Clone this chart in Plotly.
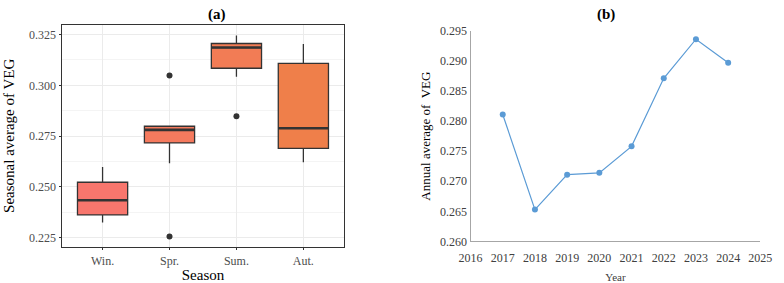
import plotly.graph_objects as go

# ---- Data: panel (a) seasonal box statistics ----
seasons = ["Win.", "Spr.", "Sum.", "Aut."]
q1 = [0.2361, 0.2716, 0.3084, 0.2689]
median = [0.2433, 0.2780, 0.3186, 0.2788]
q3 = [0.2522, 0.2798, 0.3206, 0.3108]
lower = [0.2323, 0.2616, 0.3042, 0.2620]
upper = [0.2597, 0.2798, 0.3245, 0.3203]
outlier_season = ["Spr.", "Spr.", "Sum."]
outlier_value = [0.3048, 0.2255, 0.2847]
box_colors = ["#F8766D", "#F57A5E", "#F27C55", "#EF7F4A"]

# ---- Data: panel (b) annual averages ----
years = [2017, 2018, 2019, 2020, 2021, 2022, 2023, 2024]
annual = [0.2811, 0.2653, 0.2711, 0.2714, 0.2758, 0.2871, 0.2936, 0.2897]

FONT = "Liberation Serif, Times New Roman, serif"
BOXW = 0.75

fig = go.Figure()

for i, s in enumerate(seasons):
    fig.add_trace(go.Box(
        x=[s], q1=[q1[i]], median=[median[i]], q3=[q3[i]],
        lowerfence=[lower[i]], upperfence=[upper[i]],
        fillcolor=box_colors[i], line=dict(color="#333333", width=1.3),
        whiskerwidth=0, width=BOXW, boxpoints=False,
        xaxis="x", yaxis="y", showlegend=False, hoverinfo="skip",
    ))
    # thicker median line (ggplot style)
    fig.add_trace(go.Scatter(
        x=[i - BOXW / 2, i + BOXW / 2], y=[median[i], median[i]],
        mode="lines", line=dict(color="#333333", width=2.6),
        xaxis="x2", yaxis="y", showlegend=False, hoverinfo="skip",
    ))

fig.add_trace(go.Scatter(
    x=outlier_season, y=outlier_value, mode="markers",
    marker=dict(color="#333333", size=6),
    xaxis="x", yaxis="y", showlegend=False,
))

fig.add_trace(go.Scatter(
    x=years, y=annual, mode="lines+markers",
    line=dict(color="#5B9BD5", width=1.2),
    marker=dict(color="#5B9BD5", size=6),
    xaxis="x3", yaxis="y3", showlegend=False,
))

dom_a_x = [52 / 784, 342 / 784]
dom_a_y = [(283 - 252) / 283, (283 - 19) / 283]
dom_b_x = [473 / 784, 772 / 784]
dom_b_y = [(283 - 246.7) / 283, (283 - 25) / 283]

fig.update_layout(
    width=784, height=283,
    margin=dict(l=0, r=0, t=0, b=0),
    paper_bgcolor="white", plot_bgcolor="white",
    font=dict(family=FONT, color="#4D4D4D"),
    xaxis=dict(
        domain=dom_a_x, type="category", categoryorder="array", categoryarray=seasons,
        range=[-0.6, 3.6], showgrid=True, gridcolor="#EBEBEB", gridwidth=1,
        showline=True, linecolor="#333333", linewidth=0.8, mirror=True,
        ticks="outside", ticklen=3, tickcolor="#333333",
        tickfont=dict(size=12, color="#4D4D4D", family=FONT),
        title=dict(text="Season", font=dict(size=15, color="black", family=FONT), standoff=5),
        zeroline=False, anchor="y",
    ),
    xaxis2=dict(
        domain=dom_a_x, range=[-0.6, 3.6], overlaying="x", visible=False, anchor="y",
    ),
    yaxis=dict(
        domain=dom_a_y, range=[0.2205, 0.3297],
        tickvals=[0.225, 0.25, 0.275, 0.3, 0.325],
        ticktext=["0.225", "0.250", "0.275", "0.300", "0.325"],
        showgrid=True, gridcolor="#EBEBEB", gridwidth=1,
        minor=dict(tickvals=[0.2375, 0.2625, 0.2875, 0.3125], showgrid=True,
                   gridcolor="#F4F4F4", gridwidth=1),
        showline=True, linecolor="#333333", linewidth=0.8, mirror=True,
        ticks="outside", ticklen=3, tickcolor="#333333",
        tickfont=dict(size=12, color="#4D4D4D", family=FONT),
        title=dict(text="Seasonal average of VEG", font=dict(size=15, color="black", family=FONT), standoff=10),
        zeroline=False, anchor="x",
    ),
    xaxis3=dict(
        domain=dom_b_x, range=[2016, 2025], tickmode="linear", tick0=2016, dtick=1,
        showgrid=False, showline=True, linecolor="#A6A6A6", linewidth=1,
        ticks="", ticklabelstandoff=5, tickfont=dict(size=12, color="#404040", family=FONT),
        title=dict(text="Year", font=dict(size=11, color="#404040", family=FONT), standoff=9),
        zeroline=False, anchor="y3",
    ),
    yaxis3=dict(
        domain=dom_b_y, range=[0.26, 0.295], tickmode="linear", tick0=0.26, dtick=0.005,
        tickformat=".3f", showgrid=False, showline=True, linecolor="#A6A6A6", linewidth=1,
        ticks="", tickfont=dict(size=12, color="#404040", family=FONT),
        title=dict(text="Annual average of  VEG", font=dict(size=13, color="black", family=FONT), standoff=6),
        zeroline=False, anchor="x3",
    ),
    annotations=[
        dict(text="<b>(a)</b>", x=200 / 784, y=1 - 8 / 283, xref="paper", yref="paper",
             showarrow=False, font=dict(size=15, color="black", family=FONT), yanchor="middle"),
        dict(text="<b>(b)</b>", x=624 / 784, y=1 - 8 / 283, xref="paper", yref="paper",
             showarrow=False, font=dict(size=15, color="black", family=FONT), yanchor="middle"),
    ],
)

fig.write_html("out.html")
